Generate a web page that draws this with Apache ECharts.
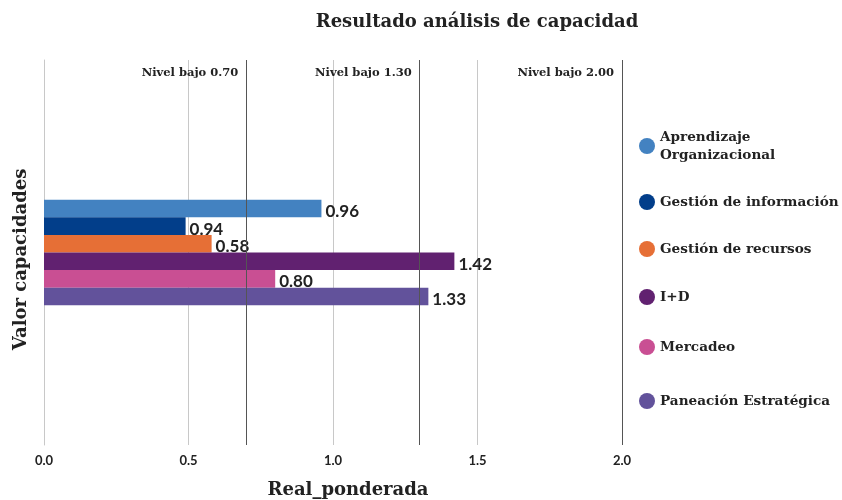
<!DOCTYPE html>
<html><head><meta charset="utf-8">
<script src="https://cdn.jsdelivr.net/npm/echarts@6/dist/echarts.min.js"></script>
<style>html,body{margin:0;padding:0;background:#fff}#c{width:842px;height:500px}</style>
</head><body><div id="c"></div>
<script>
var categories = ['Valor'];
var seriesNames = ['Aprendizaje\nOrganizacional','Gestión de información','Gestión de recursos','I+D','Mercadeo','Paneación Estratégica'];
var seriesValues = [0.96, 0.49, 0.58, 1.42, 0.80, 1.33];
var labelTexts = ['0.96','0.94','0.58','1.42','0.80','1.33'];
var colors = ['#4382c1','#023e8a','#e66f36','#612170','#c94f93','#62529b'];
var levelValues = [0.70, 1.30, 2.00];
var levelLabels = ['Nivel bajo 0.70','Nivel bajo 1.30','Nivel bajo 2.00'];
var xTicks = [0, 0.5, 1.0, 1.5, 2.0];

var slab = '"DejaVu Serif", serif';
var sans = 'Lato, "Open Sans", sans-serif';
var legendTops = [123, 188, 235, 283, 333, 387];

var series = seriesNames.map(function(n, i){
  return {
    name: n, type: 'bar', data: [seriesValues[i]], barWidth: 17.6, barGap: '0%',
    itemStyle: {color: colors[i]},
    label: {show: true, position: 'right', distance: 4, offset: [0, 3], color: '#222', fontFamily: sans, fontWeight: 'bold', fontSize: 17,
      formatter: function(){ return labelTexts[i]; }}
  };
});
series[0].markLine = {
  silent: true, symbol: 'none',
  lineStyle: {color: '#555', width: 1, type: 'solid'},
  data: levelValues.map(function(v, k){
    return {xAxis: v, label: {formatter: levelLabels[k]}};
  }),
  label: {show: true, position: 'end', align: 'right', verticalAlign: 'top', distance: 0,
    padding: [7, 8, 0, 0], color: '#222', fontFamily: slab, fontWeight: 'bold', fontSize: 11.5}
};

var legends = seriesNames.map(function(n, i){
  return {orient: 'vertical', left: 634, top: legendTops[i], itemWidth: 16, itemHeight: 16, icon: 'circle',
    data: [n],
    textStyle: {fontFamily: slab, fontWeight: 'bold', fontSize: 13.6, color: '#222', lineHeight: 18}};
});

var chart = echarts.init(document.getElementById('c'));
chart.setOption({
  animation: false,
  title: {text: 'Resultado análisis de capacidad', left: 472, textAlign: 'center', top: 8,
    textStyle: {fontFamily: slab, fontWeight: 'bold', fontSize: 18, color: '#222'}},
  grid: {left: 44, right: 220, top: 60, bottom: 55, outerBoundsMode: 'none', containLabel: false},
  legend: legends,
  xAxis: {type: 'value', min: 0, max: 2, interval: 0.5,
    name: 'Real_ponderada', nameLocation: 'middle', nameGap: 36,
    nameTextStyle: {fontFamily: slab, fontWeight: 'bold', fontSize: 18, color: '#222', padding: [0, 0, 0, 30]},
    axisLine: {show: false}, axisTick: {show: false},
    axisLabel: {color: '#222', fontFamily: sans, fontWeight: 'bold', fontSize: 13, margin: 9,
      formatter: function(v){ return v.toFixed(1); }},
    splitLine: {show: true, lineStyle: {color: '#c8c8c8', width: 1}}},
  yAxis: {type: 'category', data: categories,
    name: 'Valor capacidades', nameLocation: 'middle', nameGap: 14, nameRotate: 90,
    nameTextStyle: {fontFamily: slab, fontWeight: 'bold', fontSize: 18, color: '#222', padding: [0, 14, 0, 0]},
    axisLabel: {show: false}, axisTick: {show: false},
    axisLine: {show: true, lineStyle: {color: '#c8c8c8'}}},
  series: series
});
</script></body></html>
